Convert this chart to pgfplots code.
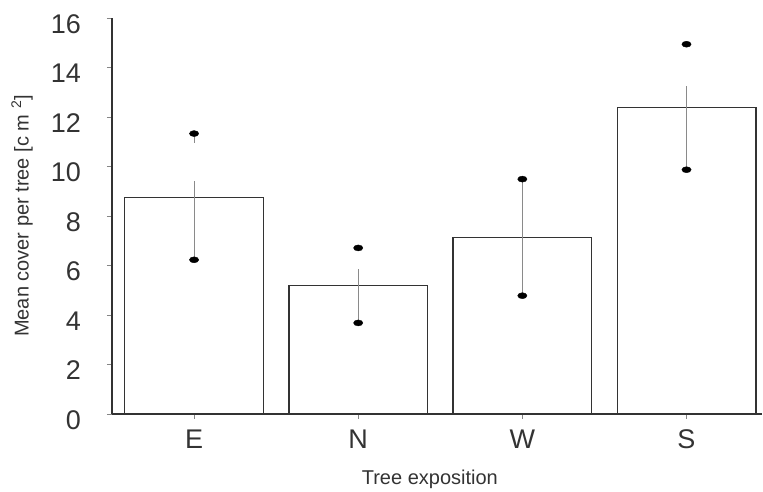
\documentclass[border=0pt]{standalone}
\usepackage{fontspec}
\setmainfont{Liberation Sans}
\usepackage{pgfplots}
\pgfplotsset{compat=1.18}
\definecolor{ink}{HTML}{333333}
\definecolor{errc}{HTML}{8A8A8A}
\begin{document}
\begin{tikzpicture}
\begin{axis}[
 scale only axis, width=650pt, height=396pt,
 xmin=-0.5, xmax=3.46, ymin=0, ymax=16,
 clip=false,
 axis x line*=bottom, axis y line*=left,
 axis line style={ink, line width=1.1pt},
 xtick={0,1,2,3}, xticklabels={E,N,W,S},
 ytick={0,2,...,16},
 tick align=outside, major tick length=5pt,
 tick style={ink!60, line width=0.6pt},
 /pgf/number format/assume math mode=true,
 ticklabel style={font=\fontsize{27}{30}\selectfont, text=ink},
 xticklabel style={anchor=base, inner sep=0pt, yshift=-30pt},
 yticklabel style={anchor=east, inner sep=0pt, xshift=-26pt, yshift=-6pt},
 xlabel={Tree exposition},
 ylabel={Mean cover per tree [c m \textsuperscript{2}]},
 label style={font=\fontsize{20}{24}\selectfont, text=ink},
 xlabel style={at={(axis description cs:0.489,0)}, anchor=base, yshift=-71pt},
 ylabel style={at={(axis description cs:-0.1385,0.5)}, anchor=center},
]
\addplot[ybar, bar width=0.845, fill=white, draw=ink, line width=1.3pt]
  coordinates {(0,8.74) (1,5.18) (2,7.12) (3,12.38)};
\addplot[errc, line width=0.8pt, unbounded coords=jump]
  coordinates {(0,6.23) (0,9.41) (0,nan) (0,10.96) (0,11.33) (0,nan)
               (1,3.68) (1,5.86) (1,nan)
               (2,4.78) (2,9.49) (2,nan)
               (3,9.87) (3,13.25)};
\addplot[only marks, mark=*, mark size=3pt, black, mark options={xscale=1.55}]
  coordinates {(0,6.23) (0,11.33) (1,3.68) (1,6.71) (2,4.78) (2,9.49) (3,9.87) (3,14.94)};
\coordinate (o) at (axis cs:-0.5,0);
\end{axis}
\pgfresetboundingbox
\path ([shift={(-112pt,-78pt)}]o) rectangle ([shift={(651pt,414pt)}]o);
\end{tikzpicture}
\end{document}
